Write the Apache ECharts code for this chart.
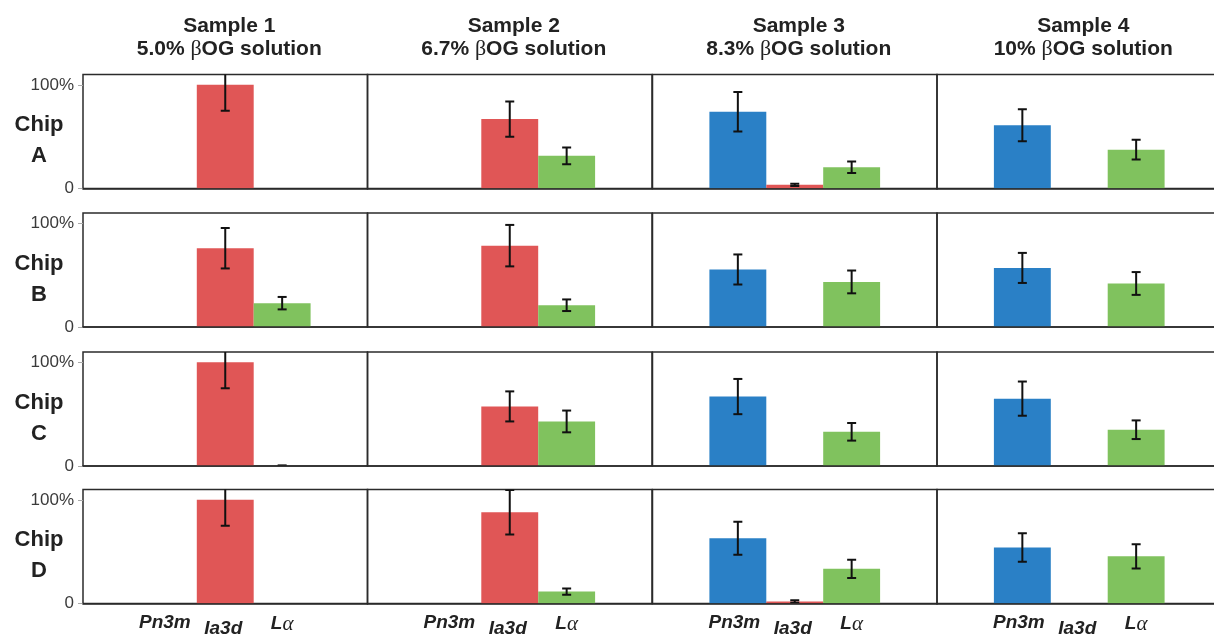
<!DOCTYPE html>
<html>
<head>
<meta charset="utf-8">
<script src="https://cdn.jsdelivr.net/npm/echarts@6/dist/echarts.min.js"></script>
<style>
  html, body { margin: 0; padding: 0; background: #fff; overflow: hidden; }
  #chart { width: 1214px; height: 635px; }
</style>
</head>
<body>
<div id="chart"></div>
<script>
// Phase fractions (%) per chip; each row is one sample: [Pn3m, Ia3d, Lα]
const SAMPLES = ['Sample 1', 'Sample 2', 'Sample 3', 'Sample 4'];
const SOLUTIONS = ['5.0%', '6.7%', '8.3%', '10%'];
const CHIPS = ['A', 'B', 'C', 'D'];
const PHASES = ['Pn3m', 'Ia3d', 'Lα'];
const Y_TICKS = [0, 100];

const chipA_mean = [[0, 100, 0], [0, 67, 31.5], [74, 3.5, 20.5], [61, 0, 37.5]];
const chipA_sd   = [[0, 25, 0],  [0, 17, 8],    [19, 1.2, 5.5],  [15.5, 0, 9.5]];
const chipB_mean = [[0, 76, 23], [0, 78.5, 21], [55.5, 0, 43.5], [57, 0, 42]];
const chipB_sd   = [[0, 19.5, 6], [0, 20, 5.6], [14.5, 0, 11],   [14.5, 0, 11]];
const chipC_mean = [[0, 100, 0], [0, 57.5, 43], [67, 0, 33],     [65, 0, 35]];
const chipC_sd   = [[0, 25, 0.6], [0, 14.5, 10.5], [17, 0, 8.5], [16.5, 0, 9]];
const chipD_mean = [[0, 100, 0], [0, 88, 11.5], [63, 2, 33.5],   [54, 0, 45.5]];
const chipD_sd   = [[0, 25, 0],  [0, 21.5, 3],  [16, 1.2, 8.8],  [13.8, 0, 11.7]];

const MEANS = [chipA_mean, chipB_mean, chipC_mean, chipD_mean];
const SDS = [chipA_sd, chipB_sd, chipC_sd, chipD_sd];

// Layout of the 4 x 4 panel grid (the last column runs past the right edge)
const GRID_LEFT = [83, 367.5, 652.5, 937];
const GRID_W = 284.5;
const GRID_TOP = [74.5, 213, 352, 489.5];
const GRID_H = 114;
const PHASE_COLORS = ['#2a80c6', '#e05656', '#80c25e'];
const FONT = '"Liberation Sans", Arial, sans-serif';
const SERIF = '"Liberation Serif", "DejaVu Serif", serif';
const INK = '#222';

// Axis categories: one empty slot on each side keeps the three bars centred and touching
const axisCats = ['', ...PHASES, ' '];

const grids = [], xAxes = [], yAxes = [], series = [], graphics = [];

function renderErrorBar(params, api) {
  const x = api.value(0);
  const top = api.coord([x, api.value(2)]);
  const bot = api.coord([x, api.value(1)]);
  const hw = 4.5;
  const style = { stroke: '#111', lineWidth: 2 };
  return {
    type: 'group',
    children: [
      { type: 'line', shape: { x1: top[0], y1: top[1], x2: bot[0], y2: bot[1] }, style },
      { type: 'line', shape: { x1: top[0] - hw, y1: top[1], x2: top[0] + hw, y2: top[1] }, style },
      { type: 'line', shape: { x1: bot[0] - hw, y1: bot[1], x2: bot[0] + hw, y2: bot[1] }, style }
    ]
  };
}

CHIPS.forEach((chip, r) => {
  SAMPLES.forEach((sample, c) => {
    const idx = grids.length;
    const means = MEANS[r][c];
    const sds = SDS[r][c];
    const bottomRow = r === CHIPS.length - 1;

    grids.push({
      left: GRID_LEFT[c], top: GRID_TOP[r], width: GRID_W, height: GRID_H,
      outerBoundsMode: 'none', containLabel: false,
      show: true, borderColor: '#2b2b2b', borderWidth: 1.5, backgroundColor: 'transparent'
    });

    xAxes.push({
      type: 'category', gridIndex: idx, data: axisCats, z: 5,
      axisLine: { show: true, lineStyle: { color: '#2b2b2b', width: 1.5 } },
      axisTick: { show: false },
      axisLabel: {
        show: bottomRow, interval: 0, margin: 10,
        formatter: v => {
          if (v === 'Pn3m') return '{p|Pn3m}';
          if (v === 'Ia3d') return '{i|Ia3d}';
          if (v === 'Lα') return '{L|L}{a|α}';
          return '';
        },
        rich: {
          p: { fontFamily: FONT, fontWeight: 'bold', fontStyle: 'italic', fontSize: 19, color: INK, padding: [0, 7, 0, 0] },
          i: { fontFamily: FONT, fontWeight: 'bold', fontStyle: 'italic', fontSize: 19, color: INK, padding: [6, 4, 0, 0] },
          L: { fontFamily: FONT, fontWeight: 'bold', fontStyle: 'italic', fontSize: 19, color: INK },
          a: { fontFamily: SERIF, fontStyle: 'italic', fontSize: 21, color: INK }
        }
      },
      splitLine: { show: false }
    });

    yAxes.push({
      type: 'value', gridIndex: idx, min: 0, max: 110,
      show: c === 0,
      axisLine: { show: false },
      axisTick: { show: true, customValues: Y_TICKS, length: 5, lineStyle: { color: '#aaa', width: 1 } },
      axisLabel: {
        customValues: Y_TICKS, margin: 9,
        formatter: v => (v === 100 ? '100%' : String(v)),
        fontFamily: FONT, fontSize: 17, color: '#3a3a3a'
      },
      splitLine: { show: false }
    });

    series.push({
      type: 'bar', xAxisIndex: idx, yAxisIndex: idx,
      barCategoryGap: '0%', barGap: '0%',
      data: ['-', ...means.map((v, k) => ({ value: v, itemStyle: { color: PHASE_COLORS[k] } })), '-'],
      silent: true
    });

    const errData = [];
    means.forEach((v, k) => {
      if (sds[k] > 0) errData.push([k + 1, v - sds[k], v + sds[k]]);
    });
    series.push({
      type: 'custom', xAxisIndex: idx, yAxisIndex: idx, clip: true, z: 4,
      renderItem: renderErrorBar,
      encode: { x: 0, y: [1, 2] },
      data: errData,
      silent: true
    });
  });

  graphics.push({
    type: 'text', x: 39, y: GRID_TOP[r] + 35,
    style: {
      text: 'Chip\n' + chip, align: 'center', verticalAlign: 'top',
      fontFamily: FONT, fontWeight: 'bold', fontSize: 22, lineHeight: 31, fill: INK
    }
  });
});

SAMPLES.forEach((sample, c) => {
  graphics.push({
    type: 'text', x: GRID_LEFT[c] + GRID_W / 2 + 4, y: 14,
    style: {
      text: '{b|' + sample + '}\n{b|' + SOLUTIONS[c] + ' }{g|β}{b|OG solution}',
      align: 'center', verticalAlign: 'top',
      rich: {
        b: { fontFamily: FONT, fontWeight: 'bold', fontSize: 21, lineHeight: 23.5, fill: INK, color: INK },
        g: { fontFamily: SERIF, fontSize: 22, lineHeight: 23.5, fill: INK, color: INK }
      }
    }
  });
});

const chart = echarts.init(document.getElementById('chart'), null, { renderer: 'canvas' });
chart.setOption({
  animation: false,
  backgroundColor: '#fff',
  grid: grids,
  xAxis: xAxes,
  yAxis: yAxes,
  series: series,
  graphic: graphics
});
</script>
</body>
</html>
